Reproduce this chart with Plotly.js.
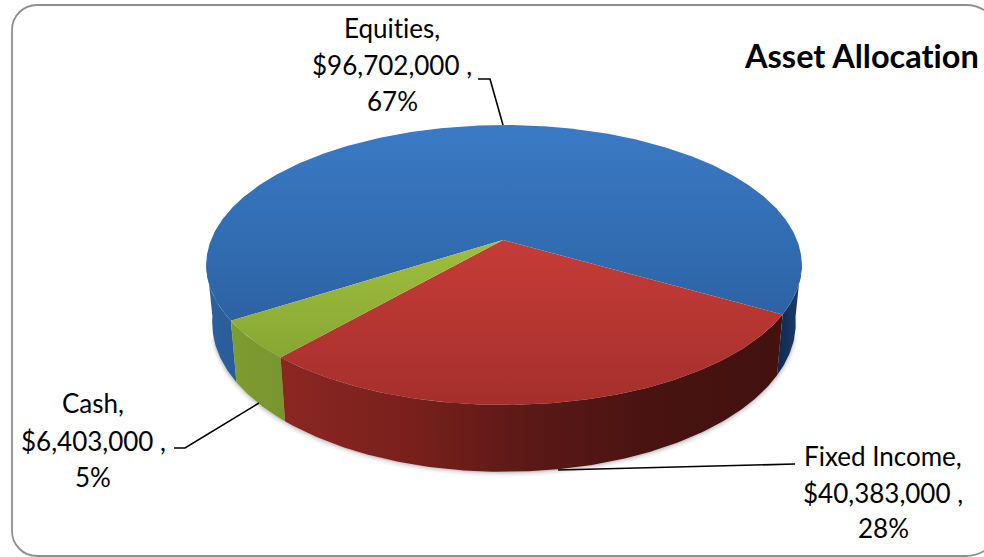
<!DOCTYPE html>
<html><head><meta charset="utf-8">
<script src="https://cdn.plot.ly/plotly-3.0.1.min.js"></script>
<style>html,body{margin:0;padding:0;background:#fff}#c{width:984px;height:557px}
svg text{font-variant-ligatures:none;font-feature-settings:"liga" 0,"clig" 0}</style>
</head><body><div id="c"></div>
<script>
const categories = ["Equities", "Fixed Income", "Cash"];
const amounts = [96702000, 40383000, 6403000];
const percentLabels = ["67%", "28%", "5%"];
const chartTitle = "Asset Allocation";

const total = amounts.reduce((a, b) => a + b, 0);
const sweep = amounts.map(v => v / total * 360);
const startDeg = -30;           // Equities/Fixed Income boundary; Fixed Income runs clockwise
const cx = 504, cy = 240, Rx = 293, Ry = 135.5, k = 0.1785;

function rim(deg, sx, sy, dy) {
  const a = deg * Math.PI / 180, u = Math.cos(a), v = Math.sin(a), d = 1 + k * v;
  return [cx + sx * Rx * u / d, cy + dy - sy * Ry * v / d];
}
function arc(from, to, sx, sy, dy) {
  const n = Math.max(2, Math.ceil(Math.abs(to - from) * 1.5)), p = [];
  for (let i = 0; i <= n; i++) p.push(rim(from + (to - from) * i / n, sx, sy, dy));
  return p;
}
const low = [0.98, 1.066, 56];
const fixedEnd = startDeg - sweep[1], cashEnd = fixedEnd - sweep[2];
const equitiesEnd = startDeg + sweep[0];

function poly(pts, extra) {
  return Object.assign({
    type: "scatter", mode: "lines", x: pts.map(p => p[0]), y: pts.map(p => p[1]),
    fill: "toself", line: { width: 0 }, hoverinfo: "skip", showlegend: false
  }, extra);
}
function sideBand(a, b) {
  return arc(a, b, 1, 1, 0).concat(arc(b, a, low[0], low[1], low[2]));
}
function scale(stops) { return stops.map((c, i) => [i / (stops.length - 1), c]); }

const traces = [];
// soft shadow below the rim
[[5, 0.05], [3.5, 0.07], [2, 0.1], [1, 0.12]].forEach(([o, alpha]) => {
  traces.push(poly(arc(195, 345, low[0] + o * 0.0015, low[1], low[2] + o),
    { fillcolor: `rgba(90,90,90,${alpha})` }));
});
// side wall
traces.push(poly(sideBand(startDeg, -8), { fillgradient: { type: "horizontal", colorscale: scale(["#10294f", "#1c3f6e"]) }, fillcolor: "#163560" }));
traces.push(poly(sideBand(188, equitiesEnd), { fillgradient: { type: "horizontal", colorscale: scale(["#2b619f", "#2a5c98"]) }, fillcolor: "#2b5f9c" }));
traces.push(poly(sideBand(fixedEnd, cashEnd), { fillgradient: { type: "horizontal", colorscale: scale(["#7f9c31", "#789530"]) }, fillcolor: "#7c9930" }));
traces.push(poly(sideBand(fixedEnd, startDeg), {
  fillgradient: { type: "horizontal", colorscale: scale(["#8b2723", "#7a201c", "#5a1916", "#481311", "#421110"]) },
  fillcolor: "#601a17"
}));
// top face
const apex = [cx - 1, cy];
traces.push(poly([apex].concat(arc(startDeg, equitiesEnd, 1, 1, 0)), {
  fillgradient: { type: "vertical", colorscale: [[0, "#3b7ac6"], [0.5, "#336eb4"], [1, "#2c61a2"]], start: 125, stop: 330 },
  fillcolor: "#336eb4"
}));
traces.push(poly([apex].concat(arc(fixedEnd, startDeg, 1, 1, 0)), {
  fillgradient: { type: "vertical", colorscale: [[0, "#c63c37"], [1, "#a52f2c"]], start: 240, stop: 405 },
  fillcolor: "#b5342f"
}));
traces.push(poly([apex].concat(arc(cashEnd, fixedEnd, 1, 1, 0)), {
  fillgradient: { type: "vertical", colorscale: [[0, "#a0bf3e"], [1, "#86a633"]], start: 240, stop: 360 },
  fillcolor: "#93b338"
}));

function money(v) { return "$" + v.toLocaleString("en-US") + " ,"; }
const FONT = "Lato, Carlito, Calibri, sans-serif";
function textAt(x, y, text, size, bold) {
  return { xref: "x", yref: "y", x, y, text: bold ? "<b>" + text + "</b>" : text, showarrow: false,
    xanchor: "center", yanchor: "middle", align: "center", font: { family: FONT, size, color: "#000" } };
}
const labelX = [392, 883, 93];
const labelY = [[28, 65, 101], [456, 493, 528], [403, 441, 477]];
const annotations = [];
categories.forEach((c, i) => {
  const lines = [c + ",", money(amounts[i]), percentLabels[i]];
  lines.forEach((t, j) => annotations.push(textAt(labelX[i], labelY[i][j], t, 26, false)));
});
annotations.push(textAt(861, 55, chartTitle, 32.5, true));

const line = { color: "#000", width: 1.6 };
const shapes = [
  { type: "path", xref: "x", yref: "y", layer: "below", line: { color: "#8f8f8f", width: 1.8 }, fillcolor: "#fff",
    path: "M 37 5 L 966 5 C 985 5 1000 20 1000 39 L 1000 522 C 1000 541 985 556 966 556 L 37 556 C 23 556 12 545 12 531 L 12 30 C 12 16 23 5 37 5 Z" },
  { type: "path", xref: "x", yref: "y", line, path: "M 478 79 L 490 79 L 503 125" },
  { type: "path", xref: "x", yref: "y", line, path: "M 174 448 L 185 448 L 259 403" },
  { type: "path", xref: "x", yref: "y", line, path: "M 558 470 L 795 464" }
];

const hidden = { visible: false, fixedrange: true };
Plotly.newPlot("c", traces, {
  width: 984, height: 557, margin: { l: 0, r: 0, t: 0, b: 0 }, paper_bgcolor: "#fff", plot_bgcolor: "rgba(0,0,0,0)",
  xaxis: Object.assign({ range: [0, 984] }, hidden),
  yaxis: Object.assign({ range: [557, 0] }, hidden),
  showlegend: false, annotations, shapes
}, { displayModeBar: false, staticPlot: true });
</script></body></html>
